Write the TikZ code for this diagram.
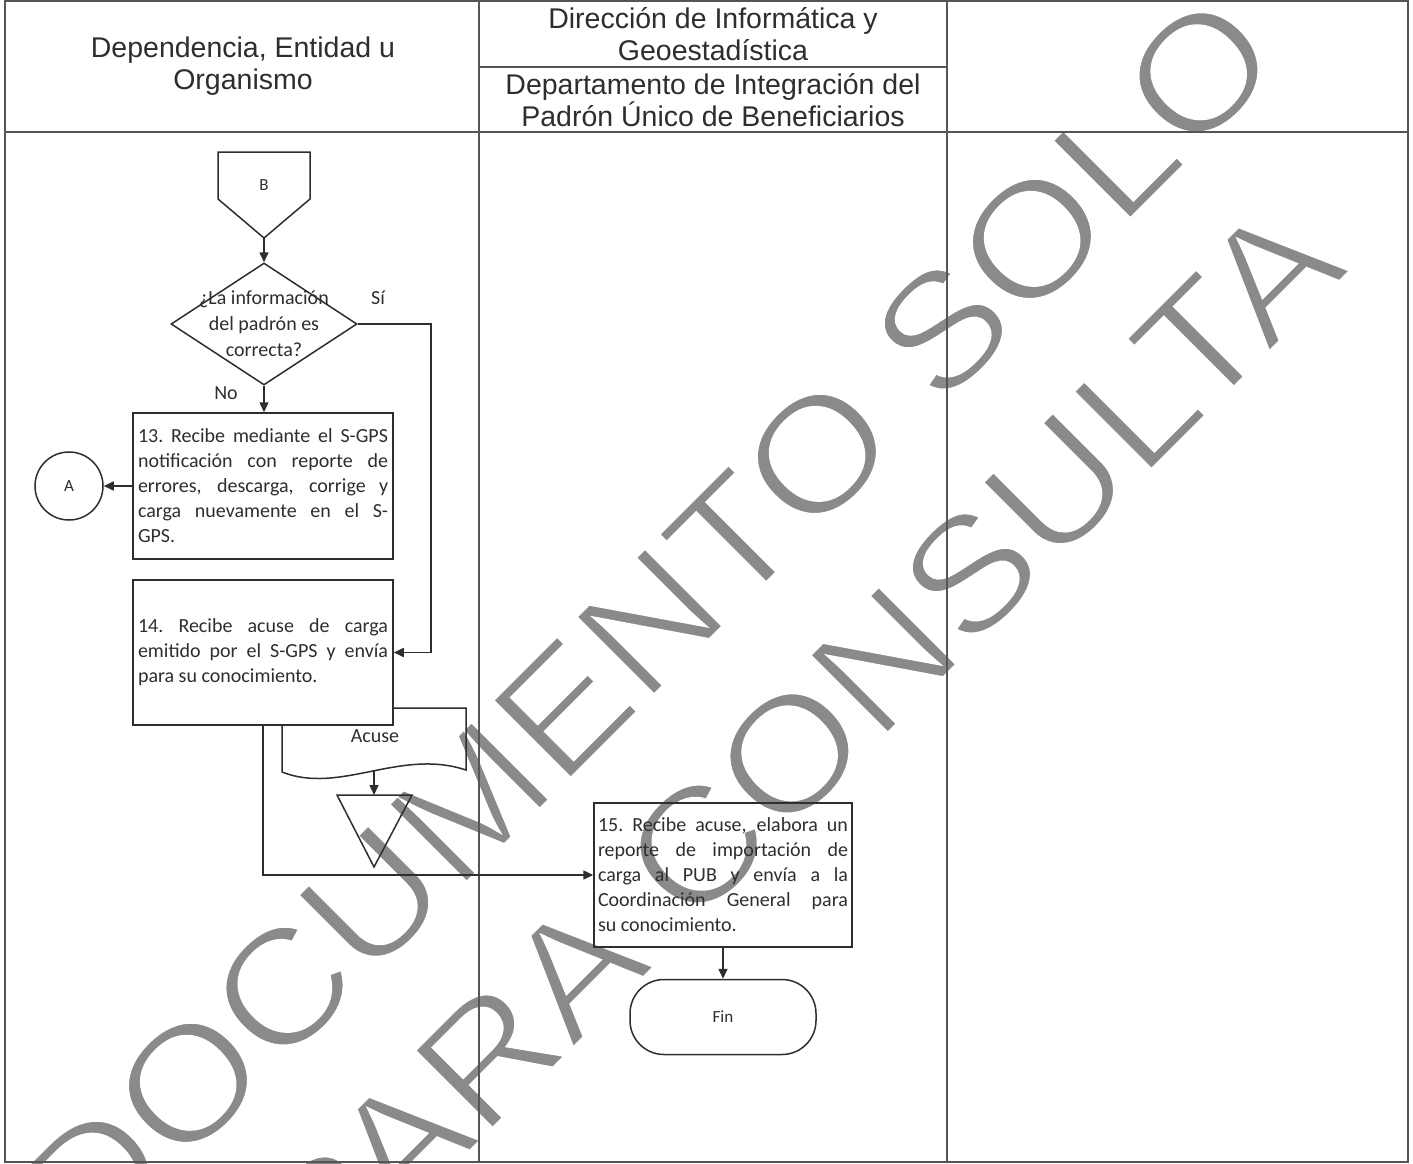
\documentclass[tikz,border=0pt]{standalone}
\usepackage{fontspec}
\setmainfont{Carlito}
\newfontfamily\arialf{Liberation Sans}
\newfontfamily\wmfont[FakeStretch=1.09]{Liberation Sans}
\usetikzlibrary{shapes.geometric,arrows.meta}
\definecolor{ink}{HTML}{2E2E2E}
\definecolor{wm}{HTML}{8A8A8A}
\definecolor{framec}{HTML}{555555}
\newlength{\tw}\setlength{\tw}{250pt}
\newcommand{\jl}[1]{\leavevmode\hbox to \tw{\spaceskip=0.226em plus 1fil minus 0.06em\xspaceskip=\spaceskip #1}}
\newcommand{\lastl}[1]{\leavevmode\hbox{\spaceskip=0.226em\xspaceskip=0.226em #1}}
\newcommand{\thinon}{\special{pdf:literal direct 2 Tr 1 1 1 RG 4 w}}
\newcommand{\thinoff}{\special{pdf:literal direct 0 Tr}}
\begin{document}
\begin{tikzpicture}[x=1pt,y=-1pt,
  ln/.style={draw=ink, line width=1.5pt},
  arr/.style={draw=ink, line width=1.5pt, -{Triangle[length=10pt,width=9pt]}},
  fr/.style={draw=framec, line width=1.4pt},
  procbox/.style={draw=ink, line width=1.5pt, rectangle, text width=\tw, inner xsep=5pt, inner ysep=0pt, align=left, font=\fontsize{20}{25}\selectfont, text=ink},
  hdr/.style={align=center, font=\arialf\fontsize{28.5}{32.5}\selectfont, text=ink, inner sep=0pt},
  lbl/.style={font=\fontsize{20}{26}\selectfont, text=ink, inner sep=0pt},
  smalltxt/.style={font=\fontsize{17}{20}\selectfont, text=ink},
  wmtext/.style={font=\wmfont\fontsize{162}{190}\selectfont, text=wm, rotate=45, anchor=base east, inner sep=0pt},
]
\useasboundingbox (0,0) rectangle (1413,1164);
\clip (0,0) rectangle (1413,1164);
\fill[white] (0,0) rectangle (1413,1164);

% watermark
\node[wmtext] (wm1) at (1287,63) {\thinon DOCUMENTO SOLO\thinoff};
\node[wmtext] (wm2) at (1352,270) {\thinon PARA CONSULTA\thinoff};

% frame and lanes
\draw[fr] (5,1) rectangle (1408,1162);
\draw[fr] (5,132) -- (1408,132);
\draw[fr] (479,1) -- (479,1162);
\draw[fr] (947,1) -- (947,1162);
\draw[fr] (479,67) -- (947,67);

% headers
\node[hdr] (h1) at (243,66) {Dependencia, Entidad u\\Organismo};
\node[hdr] (h2) at (713,34) {Dirección de Informática y\\Geoestadística};
\node[hdr] (h3) at (713,100) {Departamento de Integración del\\Padrón Único de Beneficiarios};

% off-page connector B
\draw[ln] (218,152) -- (310,152) -- (310,199) -- (264,238) -- (218,199) -- cycle;
\node[smalltxt] (Bl) at (264,185) {B};
\coordinate (Btip) at (264,238);

% decision
\node[diamond, draw=ink, line width=1.5pt, minimum width=186pt, minimum height=122pt, inner sep=0pt] (D) at (264,324) {};
\node[lbl, align=center] (Dt) at (264,324) {¿La información\\del padrón es\\correcta?};
\node[lbl] (si) at (378,298) {Sí};
\node[lbl] (no) at (226,393) {No};
\coordinate (sic) at (431,324);

% process 13
\node[procbox, minimum height=146pt] (P13) at (263,486) {\jl{13. Recibe mediante el S-GPS}\\\jl{notificación con reporte de}\\\jl{errores, descarga, corrige y}\\\jl{carga nuevamente en el S-}\\\lastl{GPS.}};

% connector A
\node[circle, draw=ink, line width=1.5pt, minimum size=68pt, inner sep=0pt, smalltxt] (A) at (69,486) {A};

% process 14
\node[procbox, minimum height=145pt] (P14) at (263,652.5) {\jl{14. Recibe acuse de carga}\\\jl{emitido por el S-GPS y envía}\\\lastl{para su conocimiento.}};

% document Acuse
\draw[ln] (393,708) -- (466,708) -- (466,770) .. controls (400,748) and (340,795) .. (282,772) -- (282,725);
\node[lbl] (acuse) at (375,736) {Acuse};
\coordinate (docb) at (374,771);

% archive triangle
\draw[ln] (337,795) -- (412,795) -- (374,867) -- cycle;
\coordinate (trit) at (374,795);

% process 15
\node[procbox, inner xsep=4pt, minimum height=144pt] (P15) at (723,875) {\jl{15. Recibe acuse, elabora un}\\\jl{reporte de importación de}\\\jl{carga al PUB y envía a la}\\\jl{Coordinación General para}\\\lastl{su conocimiento.}};

% end
\node[draw=ink, line width=1.5pt, rounded corners=34pt, minimum width=186pt, minimum height=75pt, smalltxt] (Fin) at (723,1017) {Fin};

% connectors
\draw[arr] (Btip) -- (D.north);
\draw[arr] (D.south) -- (D.south |- P13.north);
\draw[arr] (D.east) -- (sic) |- (P14.east);
\draw[arr] (P13.west) -- (A.east);
\draw[arr] (docb) -- (trit);
\draw[arr] (P14.south) |- (P15.west);
\draw[arr] (P15.south) -- (Fin.north);
\end{tikzpicture}
\end{document}
